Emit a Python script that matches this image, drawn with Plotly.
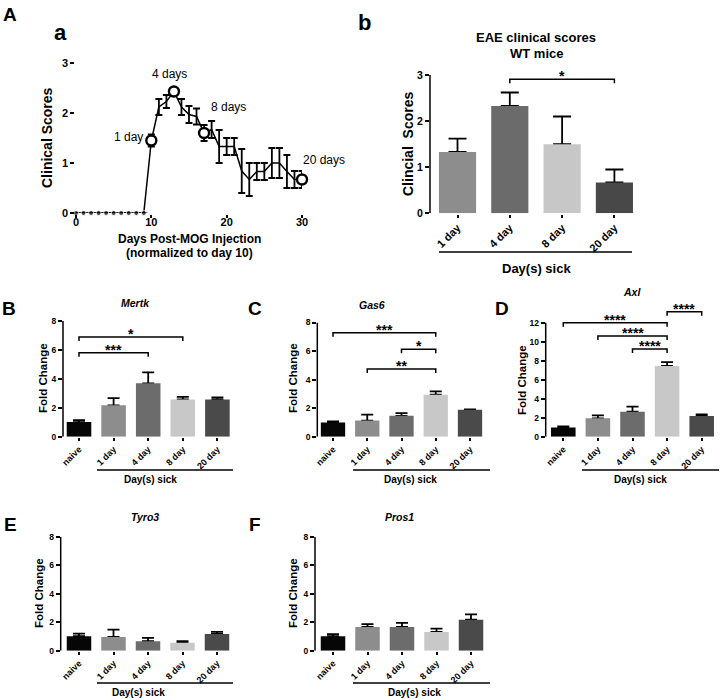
import plotly.graph_objects as go

W, H = 720, 699
FONT = "Liberation Sans, Arial, sans-serif"

# ---------------- data ----------------
# Panel A-a : clinical course
days = list(range(0, 31))
clinical_score = [0, 0, 0, 0, 0, 0, 0, 0, 0, 0,
                  1.45, 2.12, 2.23, 2.43, 2.12, 1.97, 1.93, 1.60, 1.67, 1.33,
                  1.33, 1.33, 0.84, 0.67, 0.83, 0.83, 1.00, 1.00, 0.83, 0.67, 0.67]
clinical_sem = [0, 0, 0, 0, 0, 0, 0, 0, 0, 0,
                0.12, 0.16, 0.13, 0.05, 0.16, 0.17, 0.16, 0.16, 0.17, 0.33,
                0.17, 0.17, 0.44, 0.33, 0.17, 0.17, 0.30, 0.30, 0.33, 0.17, 0.17]
highlight_days = [10, 13, 17, 30]
highlight_labels = ["1 day", "4 days", "8 days", "20 days"]

# Panel A-b : clinical scores per time point
sick_days = ["1 day", "4 day", "8 day", "20 day"]
sick_scores = [1.33, 2.33, 1.50, 0.67]
sick_sem = [0.29, 0.29, 0.60, 0.28]
sick_sig = [("4 day", "20 day", 2.91, "*")]

# Panels B-F : fold change
gene_groups = ["naive", "1 day", "4 day", "8 day", "20 day"]
mertk_fc = [1.01, 2.17, 3.69, 2.58, 2.58]
mertk_sem = [0.14, 0.50, 0.76, 0.18, 0.14]
mertk_sig = [("naive", "8 day", 6.90, "*"), ("naive", "4 day", 5.80, "***")]
gas6_fc = [0.99, 1.13, 1.46, 2.94, 1.88]
gas6_sem = [0.09, 0.42, 0.19, 0.24, 0.03]
gas6_sig = [("naive", "8 day", 7.29, "***"), ("4 day", "8 day", 6.12, "*"),
            ("1 day", "8 day", 4.75, "**")]
axl_fc = [0.98, 1.93, 2.63, 7.44, 2.18]
axl_sem = [0.11, 0.32, 0.53, 0.42, 0.17]
axl_sig = [("naive", "8 day", 12.0, "****"), ("1 day", "8 day", 10.6, "****"),
           ("4 day", "8 day", 9.23, "****"), ("8 day", "20 day", 13.16, "****")]
tyro3_fc = [1.02, 0.97, 0.67, 0.56, 1.18]
tyro3_sem = [0.18, 0.51, 0.23, 0.11, 0.14]
pros1_fc = [1.02, 1.67, 1.67, 1.32, 2.18]
pros1_sem = [0.14, 0.19, 0.28, 0.23, 0.37]

group_colors = ["#060606", "#8d8d8d", "#6c6c6c", "#c8c8c8", "#4a4a4a"]
sick_colors = ["#8d8d8d", "#6b6b6b", "#c7c7c7", "#484848"]


def X(p):
    return p / W


def Y(p):
    return 1 - p / H


fig = go.Figure()
layout = dict(width=W, height=H, margin=dict(l=0, r=0, t=0, b=0, pad=0, autoexpand=False),
              paper_bgcolor="white", plot_bgcolor="white", showlegend=False,
              font=dict(family=FONT, color="black"))
annotations = []
shapes = []


def txt(x, y, text, size, bold=True, italic=False, angle=0, xanchor="center", yanchor="middle"):
    annotations.append(dict(x=X(x), y=Y(y), xref="paper", yref="paper", text=text,
                            showarrow=False, textangle=angle, xanchor=xanchor, yanchor=yanchor,
                            font=dict(family=FONT, size=size, color="black",
                                      weight="bold" if bold else "normal",
                                      style="italic" if italic else "normal")))


def hline(x0, x1, y, w=1.5):
    shapes.append(dict(type="line", xref="paper", yref="paper", x0=X(x0), x1=X(x1),
                       y0=Y(y), y1=Y(y), line=dict(color="black", width=w)))


def axis_common(tsize):
    return dict(showgrid=False, zeroline=False, ticks="outside", ticklen=4, tickwidth=1.5,
                tickcolor="black", linecolor="black", linewidth=1.5, automargin=False,
                tickfont=dict(family=FONT, size=tsize, color="black", weight="bold"))


# ---------------- panel a ----------------
xa = axis_common(11)
xa.update(domain=[X(76), X(302)], range=[0, 30], tickvals=[0, 10, 20, 30], showline=True,
          anchor="y", ticklen=3, ticklabelstandoff=-5)
ya = axis_common(11)
ya.update(domain=[Y(213), Y(63)], range=[0, 3], tickvals=[0, 1, 2, 3], showline=True,
          anchor="x")
layout["xaxis"] = xa
layout["yaxis"] = ya
fig.add_trace(go.Scatter(
    x=days, y=clinical_score, mode="lines+markers", xaxis="x", yaxis="y",
    line=dict(color="black", width=1.5), cliponaxis=False,
    marker=dict(color="black", size=[5 if s == 0 else 0 for s in clinical_score]),
    error_y=dict(type="data", array=clinical_sem, color="black", thickness=1.8, width=3.5)))
fig.add_trace(go.Scatter(
    x=highlight_days, y=[clinical_score[days.index(d)] for d in highlight_days],
    mode="markers", xaxis="x", yaxis="y", cliponaxis=False,
    marker=dict(color="white", size=10, line=dict(color="black", width=2.4))))
label_pos = [dict(xanchor="right", xshift=-6, yshift=4),
             dict(xanchor="center", xshift=-4, yshift=18),
             dict(xanchor="left", xshift=5, yshift=26),
             dict(xanchor="left", xshift=-1, yshift=20)]
for d, lab, pos in zip(highlight_days, highlight_labels, label_pos):
    annotations.append(dict(x=d, y=clinical_score[days.index(d)], xref="x", yref="y",
                            text=lab, showarrow=False, font=dict(family=FONT, size=12),
                            yanchor="middle", **pos))
txt(47, 138, "Clinical Scores", 14, angle=-90)
txt(189, 239, "Days Post-MOG Injection", 12)
txt(189, 253, "(normalized to day 10)", 12)


def add_sig(n, cats, sig, ppu, star_size):
    for a, b, lvl, stars in sig:
        i0, i1 = cats.index(a), cats.index(b)
        d = 4.0 / ppu
        shapes.append(dict(type="path", xref=f"x{n}", yref=f"y{n}",
                           path=f"M {i0},{lvl - d} L {i0},{lvl} L {i1},{lvl} L {i1},{lvl - d}",
                           line=dict(color="black", width=1.5)))
        annotations.append(dict(x=(i0 + i1) / 2, y=lvl, xref=f"x{n}", yref=f"y{n}", text=stars,
                                showarrow=False, yanchor="middle", yshift=3,
                                font=dict(family=FONT, size=star_size, weight="bold")))


def bar_panel(n, cats, vals, errs, colors, xl, xr, c0, sp, y0, ytop, topval, dtick, rmax,
              bar_w, cap, tsize, xtsize, sig=None, star_size=14):
    ppu = (y0 - ytop) / topval
    xax = axis_common(xtsize)
    xax.update(domain=[X(xl), X(xr)], range=[(xl - c0) / sp, (xr - c0) / sp], showline=True,
               anchor=f"y{n}", tickangle=-45, tickmode="array", ticklen=3,
               ticklabelstandoff=-1,
               tickvals=list(range(len(cats))), ticktext=cats)
    yax = axis_common(tsize)
    yax.update(domain=[Y(y0), Y(y0 - rmax * ppu)], range=[0, rmax], showline=False,
               anchor=f"x{n}", tickvals=[v * dtick for v in range(int(topval / dtick) + 1)])
    layout[f"xaxis{n}"] = xax
    layout[f"yaxis{n}"] = yax
    shapes.append(dict(type="line", xref=f"x{n} domain", yref=f"y{n}", x0=0, x1=0, y0=0,
                       y1=topval, line=dict(color="black", width=1.5)))
    idx = list(range(len(cats)))
    fig.add_trace(go.Scatter(x=idx, y=vals, mode="markers", xaxis=f"x{n}", yaxis=f"y{n}",
                             marker=dict(size=1, color="rgba(0,0,0,0)"), zorder=0,
                             error_y=dict(type="data", array=errs, arrayminus=[0] * len(errs),
                                          symmetric=False, color="black", thickness=1.8,
                                          width=cap)))
    fig.add_trace(go.Bar(x=idx, y=vals, xaxis=f"x{n}", yaxis=f"y{n}", width=bar_w,
                         marker=dict(color=colors, line=dict(width=0)), zorder=1))
    if sig:
        add_sig(n, cats, sig, ppu, star_size)


# ---------------- panel b ----------------
bar_panel(2, sick_days, sick_scores, sick_sem, sick_colors, 430, 640, 457.5, 52.3,
          213.3, 75, 3, 1, 3, 0.71, 9, 10.5, 11, sick_sig, 14)
txt(536, 38, "EAE clinical scores", 13)
txt(536, 53, "WT mice", 13)
txt(408, 144, "Clincial  Scores", 14, angle=-90)
hline(439, 632, 252)
txt(536, 268, "Day(s) sick", 13)

# ---------------- panels B-F ----------------
bar_panel(3, gene_groups, mertk_fc, mertk_sem, group_colors, 63, 238, 79, 34.6,
          436.7, 321, 8, 2, 8, 0.71, 6, 8.5, 9, mertk_sig, 14)
bar_panel(4, gene_groups, gas6_fc, gas6_sem, group_colors, 317.3, 490, 333, 34.25,
          436.7, 322.5, 8, 2, 8, 0.71, 6, 8.5, 9, gas6_sig, 14)
bar_panel(5, gene_groups, axl_fc, axl_sem, group_colors, 545.7, 719, 563.3, 34.6,
          436.7, 322.7, 12, 2, 14, 0.71, 6, 8.5, 9, axl_sig, 14)
bar_panel(6, gene_groups, tyro3_fc, tyro3_sem, group_colors, 60.7, 233, 79, 34.5,
          650.7, 536.7, 8, 2, 8, 0.71, 6, 8.5, 9)
bar_panel(7, gene_groups, pros1_fc, pros1_sem, group_colors, 315, 490, 333, 34.5,
          650.7, 536.7, 8, 2, 8, 0.71, 6, 8.5, 9)

for x, y, t in [(135, 303, "Mertk"), (372, 305, "Gas6"), (632, 292, "Axl"),
                (145, 517, "Tyro3"), (399, 517, "Pros1")]:
    txt(x, y, t, 10.5, italic=True)
for x, y in [(43, 378), (293, 378), (522, 380), (39, 593), (293, 593)]:
    txt(x, y, "Fold Change", 11.5, angle=-90)
for x0, x1, y, lx in [(97, 233, 470, 150), (353, 490, 470, 410), (582, 719, 470, 640),
                      (97, 233, 683, 138), (353, 490, 683, 415)]:
    hline(x0, x1, y)
    txt(lx, y + 9.5, "Day(s) sick", 10)

# panel letters
for x, y, t, s in [(10, 14, "A", 19), (60, 33, "a", 22), (364, 22, "b", 22),
                   (9, 308, "B", 19), (255, 308, "C", 19), (502, 308, "D", 19),
                   (10, 524, "E", 19), (255, 524, "F", 19)]:
    txt(x, y, t, s)

layout["annotations"] = annotations
layout["shapes"] = shapes
fig.update_layout(**layout)
fig.write_html("out.html", config={"displayModeBar": False},
               post_script="document.body.style.margin='0px';")
